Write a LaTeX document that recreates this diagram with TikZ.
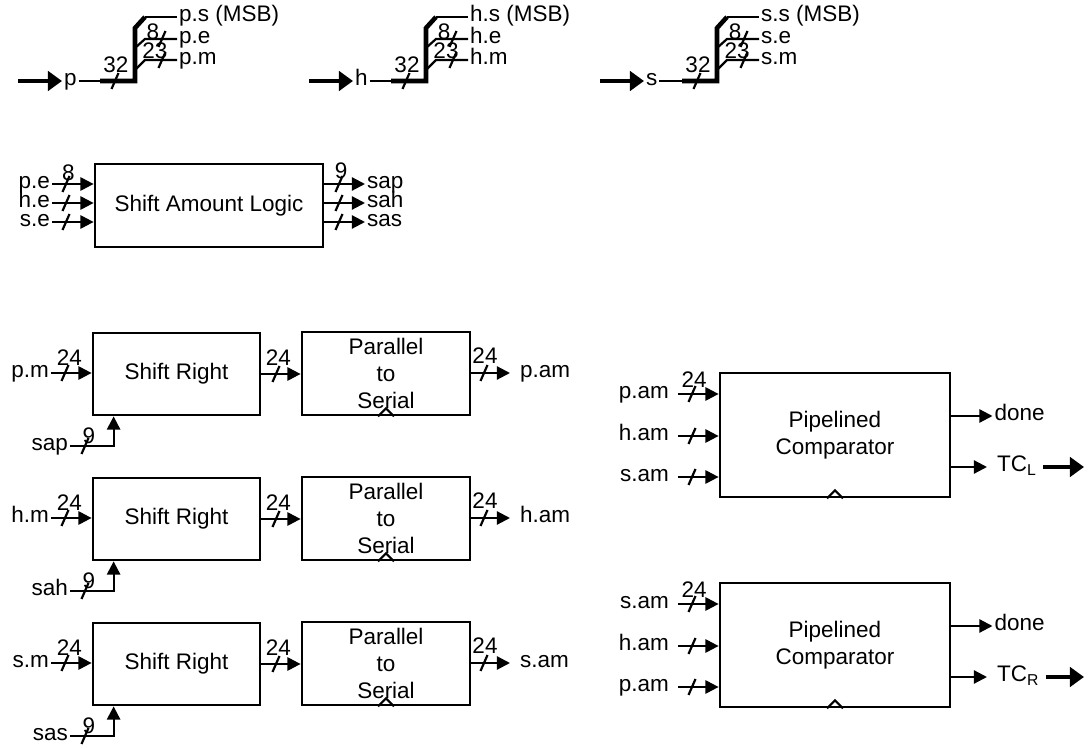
\documentclass[tikz,border=0pt]{standalone}
\usepackage{fontspec}
\setmainfont{Liberation Sans}
\usetikzlibrary{arrows.meta,calc}
\newcommand\busmk[1]{\draw[sig] ($(#1)+(-3.5,8)$) -- ($(#1)+(3.5,-8)$);}
\begin{document}
\begin{tikzpicture}[x=0.02cm,y=-0.02cm,
  font=\fontsize{12.8}{15.3}\selectfont,
  box/.style={draw,line width=1.6pt,align=center,inner sep=0pt},
  lbl/.style={inner sep=1pt},
  num/.style={inner sep=0pt},
  sig/.style={line width=1.25pt},
  sa/.style={sig,-{Triangle[length=7.5pt,width=7.5pt]}},
  thk/.style={line width=2.6pt},
  ta/.style={thk,-{Triangle[length=8pt,width=11pt]}}]
\useasboundingbox (0,0) rectangle (1089,749);

% ---------- splitters ----------
\foreach \o/\n in {0/p,291/h,582/s}{
\begin{scope}[shift={(\o,0)}]
  \coordinate (a\n) at (18,81);
  \node[lbl,anchor=mid west] (n\n) at (62,81) {\n};
  \draw[ta] (a\n) -- (n\n.mid west);
  \coordinate (k\n) at (100,81);
  \coordinate (c\n) at (135,81);
  \coordinate (t\n) at (135,28);
  \coordinate (u\n) at (145,17);
  \draw[sig] (n\n.mid east) -- (k\n);
  \draw[thk] (k\n) -- (c\n) -- (t\n) -- (u\n);
  \node[lbl,anchor=mid west] (s\n) at (177,17) {\n.s (MSB)};
  \node[lbl,anchor=mid west] (e\n) at (177,39) {\n.e};
  \node[lbl,anchor=mid west] (m\n) at (177,60) {\n.m};
  \draw[sig] (u\n) -- (s\n.mid west);
  \draw[sig] (135,48) -- (145,39) -- (e\n.mid west);
  \draw[sig] (135,70) -- (145,60) -- (m\n.mid west);
  \busmk{115,81}
  \busmk{162,39}
  \busmk{162,60}
  \node[num] (w\n a) at (116,65) {32};
  \node[num] (w\n b) at (153,32) {8};
  \node[num] (w\n c) at (155,51) {23};
\end{scope}}

% ---------- shift amount logic ----------
\node[box,minimum width=4.56cm,minimum height=1.66cm] (sal) at (209,205.5) {Shift Amount Logic};
\foreach \t/\y/\q/\nm in {p.e/184/sap/a, h.e/203/sah/b, s.e/222/sas/c}{
  \node[lbl,anchor=mid east] (i\nm) at (52,\y) {\t};
  \draw[sa] (i\nm.mid east) -- (i\nm.mid east -| sal.west);
  \busmk{66,\y}
  \node[lbl,anchor=mid west] (o\nm) at (365,\y) {\q};
  \draw[sa] (sal.east |- o\nm.mid west) -- (o\nm.mid west);
  \busmk{339,\y}
}
\node[num] (n8) at (68.5,172.5) {8};
\node[num] (n9) at (341,171) {9};

% ---------- shift right / parallel to serial rows ----------
\foreach \i/\a in {0/p,1/h,2/s}{
\begin{scope}[shift={(0,{145*\i})}]
  \node[box,minimum width=3.34cm,minimum height=1.64cm] (sr\a) at (176.5,374) {Shift Right};
  \node[lbl,anchor=mid east] (im\a) at (51,373) {\a.m};
  \draw[sa] (im\a.mid east) -- (im\a.mid east -| sr\a.west);
  \busmk{65,373}
  \node[num] (q\a 1) at (69.5,358) {24};
  \node[box,minimum width=3.36cm,minimum height=1.66cm] (ps\a) at (386,373.5) {Parallel\\to\\Serial};
  \draw[sa] (sr\a.east) -- (sr\a.east -| ps\a.west);
  \busmk{276,374}
  \node[num] (q\a 2) at (278.5,358) {24};
  \draw[sig] ($(ps\a.south)+(-8,0)$) -- ++(8,-8) -- ++(8,8);
  \node[lbl,anchor=mid west,inner xsep=5.5pt] (am\a) at (510,373) {\a.am};
  \draw[sa] (ps\a.east |- am\a.mid west) -- (am\a.mid west);
  \busmk{484,373}
  \node[num] (q\a 3) at (485,356) {24};
  \node[lbl,anchor=mid east] (ct\a) at (70,446) {sa\a};
  \coordinate (cu\a) at ($(sr\a.south west)+(22,0)$);
  \draw[sa] (ct\a.mid east) -| (cu\a);
  \busmk{85,446}
  \node[num] (q\a 4) at (89,436) {9};
\end{scope}}

% ---------- comparators ----------
\foreach \k/\dy/\la/\lc/\sub in {1/0/p/s/L,2/210/s/p/R}{
\begin{scope}[shift={(0,\dy)}]
  \node[box,minimum width=4.6cm,minimum height=2.48cm] (cmp\k) at (835,435) {Pipelined\\Comparator};
  \node[lbl,anchor=mid east,inner xsep=5pt] (xa\k) at (678,394) {\la.am};
  \node[lbl,anchor=mid east,inner xsep=5pt] (xb\k) at (678,436) {h.am};
  \node[lbl,anchor=mid east,inner xsep=5pt] (xc\k) at (678,477) {\lc.am};
  \draw[sa] (xa\k.mid east) -- (xa\k.mid east -| cmp\k.west);
  \draw[sa] (xb\k.mid east) -- (xb\k.mid east -| cmp\k.west);
  \draw[sa] (xc\k.mid east) -- (xc\k.mid east -| cmp\k.west);
  \busmk{692,394}
  \busmk{692,436}
  \busmk{692,477}
  \node[num] (r\k) at (694,380) {24};
  \draw[sig] ($(cmp\k.south)+(-8,0)$) -- ++(8,-8) -- ++(8,8);
  \node[lbl,anchor=mid west] (d\k) at (992.5,416) {done};
  \draw[sa] (cmp\k.east |- d\k.mid west) -- (d\k.mid west);
  \node[lbl,anchor=mid west,inner xsep=5.5pt] (tc\k) at (987,467) {TC\textsubscript{\sub}};
  \draw[sa] (cmp\k.east |- tc\k.mid west) -- (tc\k.mid west);
  \coordinate (oo\k) at (1084,467);
  \draw[ta] ([xshift=-2pt]tc\k.mid east) -- (oo\k);
\end{scope}}
\end{tikzpicture}
\end{document}
